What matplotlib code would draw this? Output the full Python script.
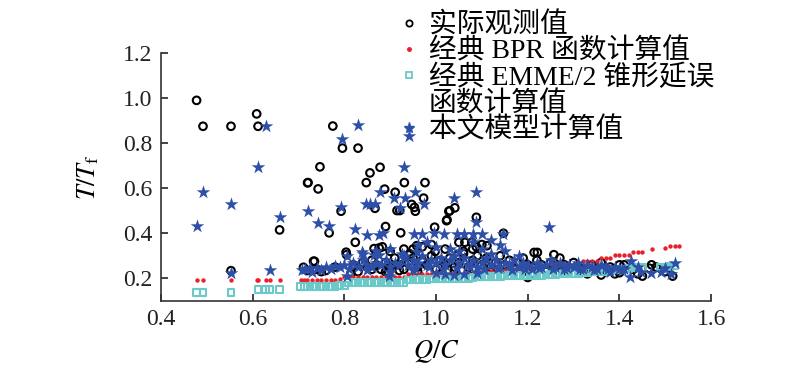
import matplotlib.pyplot as plt
from matplotlib.lines import Line2D
from matplotlib.ticker import FormatStrFormatter

plt.rcParams['font.family'] = ['Liberation Serif', 'Noto Sans CJK SC']
plt.rcParams['mathtext.fontset'] = 'stix'

# 实际观测值 (observed)
obs_x = [0.478, 0.492, 0.553, 0.609, 0.612, 0.553, 0.659, 0.720, 0.711, 0.733,
         0.775, 0.796, 0.830, 0.747, 0.721, 0.743, 0.878, 0.856, 0.848, 0.931,
         0.976, 0.888, 0.911, 0.973, 0.947, 0.955, 0.953, 0.867, 0.915, 0.921,
         0.793, 0.767, 0.890, 0.824, 0.865, 0.876, 0.883, 0.923, 0.997, 1.024,
         1.028, 1.041, 1.030, 1.023, 1.088, 1.147, 0.804, 0.805, 0.735, 0.944,
         0.958, 0.998, 1.046, 1.050, 1.063, 1.078, 1.111, 1.088, 1.100, 1.214,
         1.221, 1.257, 0.814, 0.897,
         0.72, 0.74, 0.75, 0.76, 0.78, 0.82, 0.84, 0.85, 0.86, 0.87,
         0.88, 0.89, 0.90, 0.91, 0.92, 0.93, 0.94, 0.95, 0.96, 0.97,
         0.98, 0.99, 1.00, 1.01, 1.02, 1.03, 1.04, 1.05, 1.06, 1.07,
         1.08, 1.09, 1.10, 1.11, 1.12, 1.13, 1.14, 1.15, 1.16, 1.17,
         1.18, 1.19, 1.20, 1.21, 1.22, 1.23, 1.24, 1.25, 1.26, 1.27,
         1.28, 1.29, 1.30, 1.31, 1.32, 1.33, 1.34, 1.35, 1.36, 1.37,
         1.38, 1.39, 1.40, 1.41, 1.43, 1.45, 1.47, 1.48, 1.50, 1.516, 1.200,
         0.87, 0.90, 0.93, 0.95, 0.97, 0.99, 1.02, 1.06, 1.08,
         0.83, 0.86, 0.89, 0.92, 0.96, 1.00, 1.04, 1.08, 1.12, 1.16,
         1.20, 1.24, 1.28, 1.32, 1.36, 1.40, 1.44, 1.465]
obs_y = [0.990, 0.875, 0.875, 0.930, 0.875, 0.234, 0.415, 0.624, 0.249, 0.276,
         0.876, 0.778, 0.778, 0.695, 0.625, 0.597, 0.693, 0.668, 0.625, 0.625,
         0.625, 0.596, 0.582, 0.556, 0.528, 0.498, 0.515, 0.511, 0.501, 0.501,
         0.498, 0.402, 0.430, 0.360, 0.332, 0.335, 0.340, 0.402, 0.427, 0.460,
         0.498, 0.513, 0.500, 0.456, 0.471, 0.400, 0.316, 0.305, 0.276, 0.308,
         0.345, 0.319, 0.301, 0.360, 0.360, 0.360, 0.345, 0.340, 0.350, 0.315,
         0.315, 0.305, 0.220, 0.227,
         0.235, 0.240, 0.230, 0.235, 0.250, 0.260, 0.270, 0.250, 0.280, 0.260,
         0.240, 0.270, 0.250, 0.290, 0.260, 0.240, 0.270, 0.290, 0.250, 0.280,
         0.260, 0.300, 0.240, 0.280, 0.260, 0.290, 0.250, 0.270, 0.310, 0.250,
         0.280, 0.300, 0.260, 0.290, 0.250, 0.270, 0.300, 0.260, 0.280, 0.240,
         0.270, 0.290, 0.260, 0.250, 0.280, 0.260, 0.240, 0.270, 0.250, 0.290,
         0.260, 0.240, 0.270, 0.250, 0.230, 0.220, 0.260, 0.240, 0.270, 0.230,
         0.250, 0.220, 0.260, 0.260, 0.240, 0.210, 0.260, 0.250, 0.230, 0.210, 0.204,
         0.310, 0.320, 0.330, 0.330, 0.340, 0.350, 0.330, 0.320, 0.330,
         0.230, 0.240, 0.230, 0.235, 0.230, 0.240, 0.235, 0.240, 0.230, 0.235,
         0.235, 0.230, 0.235, 0.240, 0.215, 0.225, 0.220, 0.245]

# 经典 BPR 函数计算值
bpr_x = [0.478, 0.492, 0.553, 0.609, 0.613, 0.629, 0.637, 0.659,
         0.705, 0.712, 0.719, 0.729, 0.74, 0.75, 0.76, 0.77, 0.78, 0.79,
         0.80, 0.81, 0.82, 0.83, 0.84, 0.85, 0.86, 0.87, 0.88, 0.89, 0.90, 0.91, 0.92, 0.93,
         0.94, 0.95, 0.96, 0.97, 0.98, 0.99, 1.00, 1.01, 1.02, 1.03, 1.04, 1.05, 1.06, 1.07, 1.08, 1.09, 1.10,
         1.11, 1.12, 1.13, 1.14, 1.15, 1.16, 1.17, 1.18, 1.19, 1.20, 1.21, 1.22, 1.23, 1.24,
         1.25, 1.26, 1.27, 1.28, 1.29, 1.30, 1.31,
         1.32, 1.33, 1.34, 1.35, 1.36, 1.37, 1.38,
         1.39, 1.40, 1.41, 1.42, 1.43, 1.44, 1.45, 1.47, 1.50, 1.51, 1.52, 1.53]
bpr_y = [0.193, 0.193, 0.193, 0.193, 0.193, 0.193, 0.193, 0.193,
         0.193, 0.193, 0.193, 0.193, 0.193, 0.193, 0.193, 0.193, 0.193, 0.196,
         0.207, 0.207, 0.207, 0.207, 0.207, 0.207, 0.207, 0.207, 0.207, 0.207, 0.207, 0.207, 0.207, 0.207,
         0.219, 0.219, 0.219, 0.219, 0.219, 0.219, 0.219, 0.219, 0.219, 0.219, 0.219, 0.219, 0.219, 0.222, 0.222, 0.225, 0.227,
         0.229, 0.232, 0.233, 0.235, 0.237, 0.240, 0.241, 0.243, 0.245, 0.248, 0.250, 0.252, 0.255, 0.258,
         0.264, 0.264, 0.264, 0.264, 0.264, 0.264, 0.270,
         0.279, 0.279, 0.279, 0.279, 0.291, 0.291, 0.291,
         0.305, 0.305, 0.305, 0.305, 0.319, 0.319, 0.319, 0.330, 0.335, 0.345, 0.345, 0.345]

# 经典 EMME/2 锥形延误函数计算值
emme_x = [0.478, 0.492, 0.553, 0.612, 0.629, 0.637, 0.659,
          0.705, 0.712, 0.72, 0.73, 0.74, 0.75, 0.76, 0.77, 0.78,
          0.79, 0.80, 0.81, 0.82, 0.83, 0.84, 0.85, 0.86, 0.87, 0.88, 0.89, 0.90, 0.91, 0.92, 0.93,
          0.94, 0.95, 0.96, 0.97, 0.98, 0.99, 1.00, 1.01, 1.02, 1.03, 1.04, 1.05, 1.06, 1.07, 1.08,
          1.09, 1.10, 1.11, 1.12, 1.13, 1.14, 1.15, 1.16, 1.17, 1.18, 1.19, 1.20, 1.21, 1.22, 1.23,
          1.24, 1.25, 1.26, 1.27, 1.28, 1.29, 1.30, 1.31, 1.32, 1.33, 1.34, 1.35, 1.36, 1.37, 1.38,
          1.40, 1.42, 1.43, 1.44, 1.45, 1.49, 1.50, 1.51, 1.52]
emme_y = [0.136, 0.136, 0.136, 0.151, 0.151, 0.151, 0.151,
          0.164, 0.164, 0.164, 0.164, 0.164, 0.164, 0.164, 0.164, 0.164,
          0.168, 0.170, 0.180, 0.180, 0.180, 0.180, 0.180, 0.180, 0.180, 0.180, 0.180, 0.180, 0.180, 0.180, 0.182,
          0.193, 0.193, 0.195, 0.195, 0.195, 0.197, 0.197, 0.197, 0.197, 0.197, 0.197, 0.197, 0.200, 0.200, 0.205,
          0.207, 0.208, 0.209, 0.210, 0.210, 0.210, 0.211, 0.212, 0.212, 0.212, 0.212, 0.212, 0.213, 0.214, 0.214,
          0.215, 0.216, 0.218, 0.219, 0.220, 0.221, 0.222, 0.223, 0.225, 0.226, 0.228, 0.229, 0.230, 0.232, 0.233,
          0.240, 0.245, 0.249, 0.249, 0.249, 0.250, 0.250, 0.252, 0.255]

# 本文模型计算值
model_x = [0.629, 0.613, 0.492, 0.478, 0.554, 0.659, 0.720, 0.553, 0.637, 0.707,
           0.730, 0.830, 0.796, 0.941, 0.931, 0.792, 0.743, 0.767, 0.824, 0.847,
           0.856, 0.866, 0.877, 0.909, 0.922, 0.933, 0.954, 0.973, 1.040, 1.088,
           1.087, 1.147, 1.247, 0.849, 0.875, 0.884, 0.805, 0.839, 0.865, 0.875,
           0.925, 0.951, 0.969, 0.995, 1.017, 1.046, 1.060, 1.080, 1.100, 0.958,
           0.897, 0.805,
           0.74, 0.76, 0.78, 0.80, 0.81, 0.82, 0.83, 0.84, 0.85, 0.86,
           0.87, 0.88, 0.89, 0.90, 0.91, 0.92, 0.93, 0.94, 0.95, 0.96,
           0.97, 0.98, 0.99, 1.00, 1.01, 1.02, 1.03, 1.04, 1.05, 1.06,
           1.07, 1.08, 1.09, 1.10, 1.11, 1.12, 1.13, 1.14, 1.15, 1.16,
           1.17, 1.18, 1.19, 1.20, 1.21, 1.22, 1.23, 1.24, 1.25, 1.26,
           1.27, 1.28, 1.29, 1.30, 1.31, 1.32, 1.33, 1.34, 1.35, 1.36,
           1.37, 1.38, 1.39, 1.41,
           0.85, 0.90, 0.95, 1.00, 1.02, 1.04, 1.06, 1.09,
           0.84, 0.87, 0.90, 0.93, 0.96, 0.98, 1.00, 1.03, 1.05, 1.08,
           1.10, 1.12, 1.15, 1.18, 1.12, 1.14,
           1.513, 1.520, 1.425, 1.422, 1.468, 1.448, 1.400, 1.440, 1.490, 1.500,
           0.715, 0.725, 0.75, 0.77, 0.79,
           0.955, 0.985, 1.015, 1.045, 1.075, 1.105, 1.135, 1.165, 1.195, 1.225,
           1.255, 1.285, 1.315, 1.345, 1.375, 1.405]
model_y = [0.875, 0.693, 0.582, 0.431, 0.528, 0.471, 0.501, 0.222, 0.237, 0.237,
           0.230, 0.879, 0.820, 0.830, 0.695, 0.516, 0.444, 0.433, 0.418, 0.528,
           0.528, 0.528, 0.584, 0.557, 0.511, 0.557, 0.584, 0.531, 0.557, 0.582,
           0.449, 0.397, 0.430, 0.394, 0.394, 0.400, 0.301, 0.317, 0.305, 0.305,
           0.308, 0.397, 0.397, 0.400, 0.397, 0.397, 0.397, 0.397, 0.397, 0.315,
           0.212, 0.212,
           0.245, 0.250, 0.255, 0.260, 0.240, 0.270, 0.250, 0.280, 0.260, 0.250,
           0.270, 0.260, 0.280, 0.250, 0.270, 0.260, 0.290, 0.260, 0.280, 0.270,
           0.300, 0.260, 0.280, 0.270, 0.290, 0.260, 0.280, 0.300, 0.270, 0.290,
           0.260, 0.280, 0.250, 0.270, 0.290, 0.260, 0.280, 0.250, 0.270, 0.260,
           0.280, 0.250, 0.270, 0.260, 0.240, 0.270, 0.250, 0.260, 0.280, 0.250,
           0.270, 0.240, 0.260, 0.250, 0.270, 0.240, 0.260, 0.250, 0.240, 0.260,
           0.250, 0.230, 0.250, 0.240,
           0.235, 0.230, 0.235, 0.225, 0.220, 0.215, 0.220, 0.225,
           0.310, 0.320, 0.330, 0.300, 0.350, 0.360, 0.340, 0.330, 0.320, 0.360,
           0.330, 0.310, 0.320, 0.300, 0.370, 0.350,
           0.220, 0.267, 0.279, 0.204, 0.222, 0.230, 0.240, 0.250, 0.230, 0.245,
           0.240, 0.245, 0.238, 0.242, 0.250,
           0.245, 0.250, 0.240, 0.245, 0.250, 0.240, 0.245, 0.238, 0.242, 0.245,
           0.240, 0.245, 0.242, 0.238, 0.242, 0.235]

labels = ['实际观测值', '经典 BPR 函数计算值', '经典 EMME/2 锥形延误', '函数计算值', '本文模型计算值']

fig = plt.figure(figsize=(8, 3.71), dpi=100)
ax = fig.add_axes([0.201, 0.189, 0.688, 0.668])

ax.scatter(obs_x, obs_y, s=30, facecolors='none', edgecolors='black', linewidths=1.5)
ax.scatter(bpr_x, bpr_y, s=10, marker='o', color='#e8202a', linewidths=0)
ax.scatter(emme_x, emme_y, s=24, marker='s', facecolors='none', edgecolors='#6cc9c9', linewidths=1.5)
ax.scatter(model_x, model_y, s=105, marker='*', color='#2d4fa8', linewidths=0)

ax.set_xlim(0.4, 1.6)
ax.set_ylim(0.1, 1.2)
ax.set_xticks([0.4, 0.6, 0.8, 1.0, 1.2, 1.4, 1.6])
ax.set_yticks([0.2, 0.4, 0.6, 0.8, 1.0, 1.2])
ax.xaxis.set_major_formatter(FormatStrFormatter('%.1f'))
ax.yaxis.set_major_formatter(FormatStrFormatter('%.1f'))
ax.tick_params(direction='in', length=5, width=1.2, labelsize=17, colors='#222222', pad=6)
ax.spines['top'].set_visible(False)
ax.spines['right'].set_visible(False)
for side in ['left', 'bottom']:
    ax.spines[side].set_linewidth(1.2)
    ax.spines[side].set_color('#333333')

ax.set_xlabel('$Q/C$', fontsize=19, labelpad=6)
ax.set_ylabel('$T/T_\\mathrm{f}$', fontsize=19, labelpad=16)

# legend: the EMME label wraps onto a second line without its own marker
blank = Line2D([], [], linestyle='none')
leg_handles = [
    Line2D([], [], linestyle='none', marker='o', markersize=4.5, markerfacecolor='none',
           markeredgecolor='black', markeredgewidth=1.3),
    Line2D([], [], linestyle='none', marker='o', markersize=2.5, color='#e8202a'),
    Line2D([], [], linestyle='none', marker='s', markersize=4.5, markerfacecolor='none',
           markeredgecolor='#6cc9c9', markeredgewidth=1.3),
    blank,
    Line2D([], [], linestyle='none', marker='*', markersize=8, color='#2d4fa8'),
]
fig.legend(leg_handles, labels, loc='upper left', bbox_to_anchor=(0.475, 1.012), frameon=False,
           prop={'size': 20, 'weight': 'light'}, handletextpad=0.25, labelspacing=0.0,
           borderpad=0.1, handlelength=0.9)

fig.savefig('out.png', dpi=100)
